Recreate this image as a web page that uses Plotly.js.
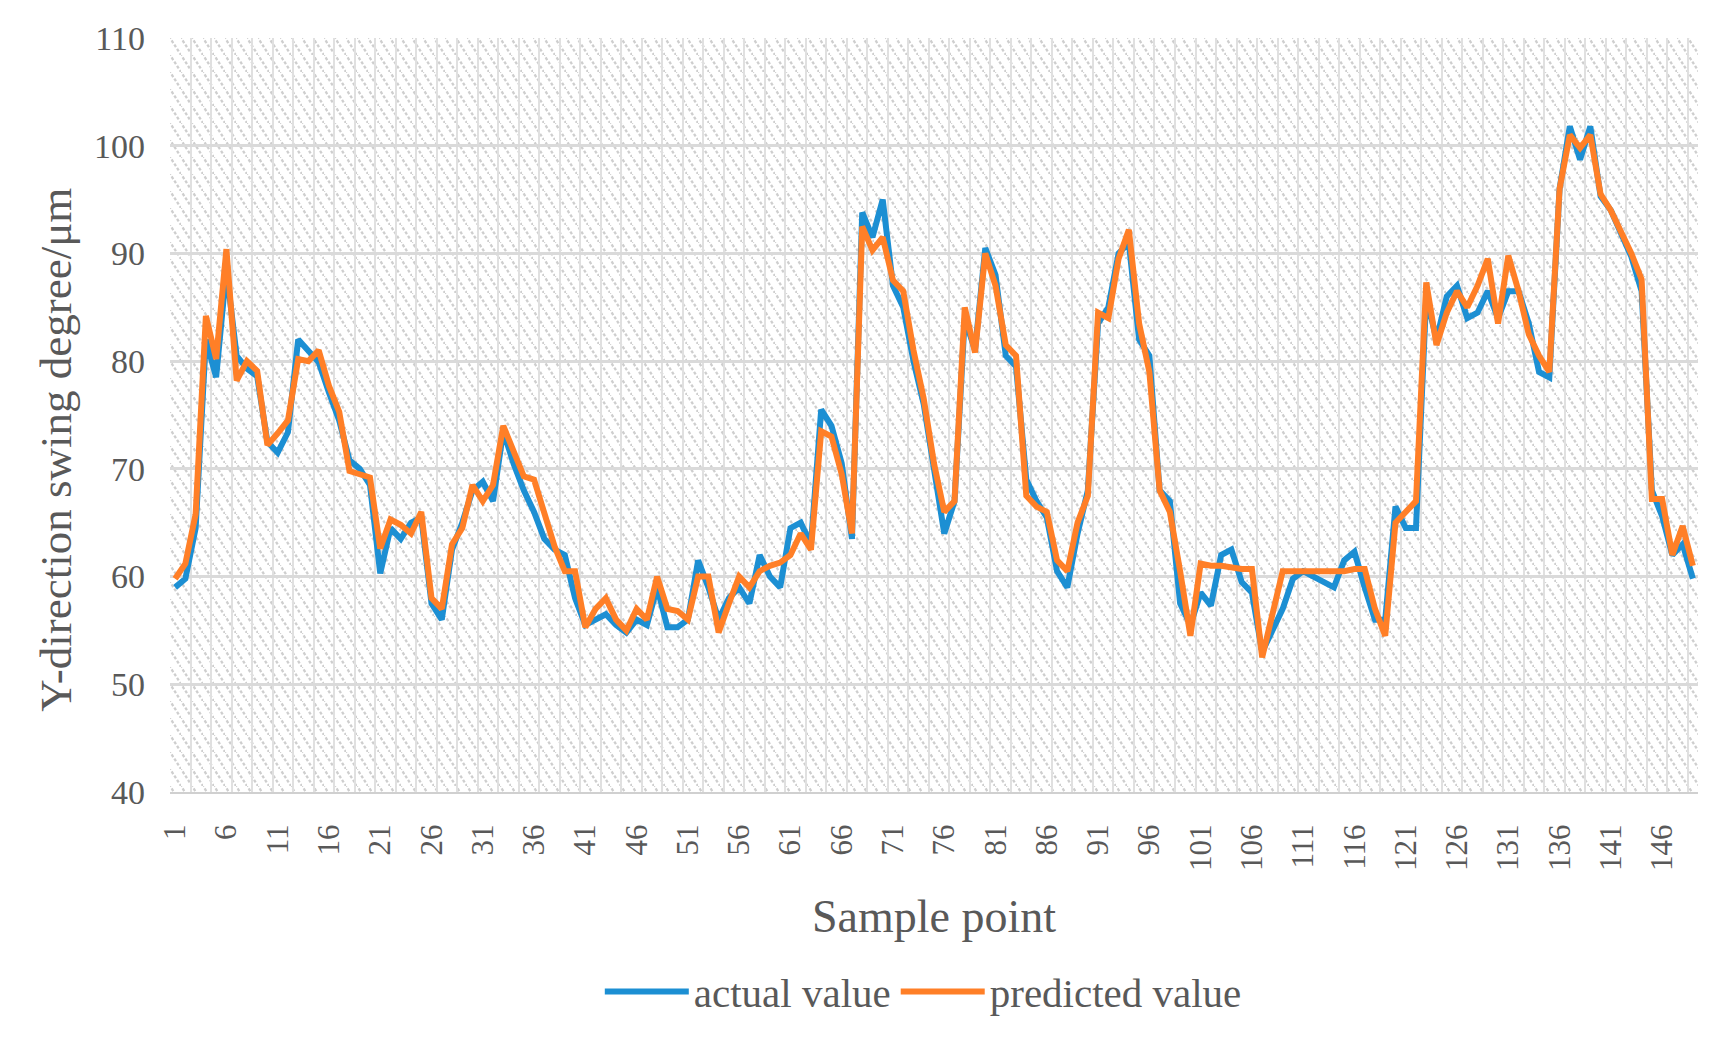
<!DOCTYPE html>
<html>
<head>
<meta charset="utf-8">
<script src="https://cdn.plot.ly/plotly-3.0.1.min.js"></script>
<style>html,body{margin:0;padding:0;background:#fff;}#chart{width:1732px;height:1038px;}</style>
</head>
<body>
<div id="chart"></div>
<script>
// Sample points 1..149
const samplePoints = Array.from({length: 149}, (_, i) => i + 1);

const actualValue = [
  59, 59.8, 64.5, 82, 78.5, 88.5, 80.5, 79.3, 78.6, 72.5,
  71.5, 73.4, 82, 81, 79.9, 77.1, 74.5, 70.8, 70, 68.5,
  60.3, 64.5, 63.5, 65, 65.5, 57.5, 56, 62.5, 65, 68,
  68.8, 67, 73.5, 70.5, 68, 66, 63.5, 62.5, 62, 58,
  55.5, 56, 56.5, 55.5, 54.8, 56, 55.5, 59, 55.3, 55.3,
  56, 61.5, 59, 56, 58, 59, 57.5, 62, 60, 59,
  64.5, 65, 63, 75.5, 74, 70.5, 63.5, 93.8, 91.5, 95,
  87, 85, 80, 76, 70, 64, 67, 84, 81, 90.5,
  88, 80.5, 79.5, 69, 67, 65.5, 60.5, 59, 64, 68,
  83.5, 85, 90, 91, 82, 80.5, 68, 67, 57.5, 55.5,
  58.5, 57.3, 62, 62.5, 59.5, 58.5, 53, 55, 57, 59.8,
  60.5, 60, 59.5, 59, 61.5, 62.3, 59, 56, 56, 66.5,
  64.5, 64.5, 86, 82, 86, 87, 84, 84.5, 86.5, 84,
  86.5, 86.5, 83.5, 79, 78.5, 96, 101.8, 98.7, 101.8, 95.3,
  94, 92, 89.7, 86.5, 68, 65.6, 62, 63, 59.8
];

const predictedValue = [
  59.8, 61.2, 65.8, 84.2, 80.2, 90.4, 78.2, 80, 79.1, 72.2,
  73.3, 74.5, 80.2, 80, 81, 77.7, 75.3, 69.8, 69.5, 69.2,
  62.6, 65.3, 64.8, 64, 66, 58, 57, 63, 64.5, 68.5,
  67, 68.5, 74, 71.5, 69.3, 69, 66, 62.8, 60.5, 60.5,
  55.3, 57, 58, 56, 55, 57, 56, 60, 57, 56.8,
  56, 60, 60, 54.8, 57.5, 60, 59, 60.5, 61, 61.3,
  62, 64, 62.5, 73.5, 73, 69.5, 64, 92.5, 90.3, 91.5,
  87.5, 86.5, 81, 76.5, 70.5, 66, 67, 85, 80.8, 90,
  87, 81.5, 80.5, 67.5, 66.5, 66, 61.5, 60.5, 65, 67.5,
  84.5, 84, 89.5, 92.2, 83.5, 79, 68, 66, 60.5, 54.5,
  61.2, 61, 61, 60.8, 60.7, 60.7, 52.5, 56.5, 60.5, 60.5,
  60.5, 60.5, 60.5, 60.5, 60.5, 60.7, 60.7, 57, 54.5, 65,
  66, 67, 87.3, 81.5, 84.5, 86.5, 85, 87, 89.5, 83.5,
  89.8, 86.5, 82.5, 80.5, 79, 96, 101, 99.8, 101, 95.5,
  94, 92, 90, 87.6, 67.2, 67.2, 62, 64.7, 61
];

const xTickVals = [1, 6, 11, 16, 21, 26, 31, 36, 41, 46, 51, 56, 61, 66, 71, 76, 81, 86, 91, 96, 101, 106, 111, 116, 121, 126, 131, 136, 141, 146];
const yTickVals = [40, 50, 60, 70, 80, 90, 100, 110];

const FONT = 'Liberation Serif, Times New Roman, serif';
const TXT = '#595959';

const hatchSvg = "<svg xmlns='http://www.w3.org/2000/svg' width='1528' height='754'>" +
  "<defs><pattern id='h' width='11' height='17' patternUnits='userSpaceOnUse'>" +
  "<path d='M-1.1,-1.7 L12.1,18.7' stroke='#cecece' stroke-width='2.3' stroke-dasharray='3 2'/>" +
  "</pattern></defs><rect width='100%' height='100%' fill='url(#h)'/></svg>";

const traces = [
  {
    x: samplePoints, y: actualValue, type: 'scatter', mode: 'lines',
    name: 'actual value', line: {color: '#1c8fd3', width: 6}
  },
  {
    x: samplePoints, y: predictedValue, type: 'scatter', mode: 'lines',
    name: 'predicted value', line: {color: '#ff7f27', width: 6}
  }
];

const layout = {
  width: 1732, height: 1038,
  margin: {l: 170, r: 34, t: 38, b: 246},
  paper_bgcolor: '#ffffff',
  plot_bgcolor: '#ffffff',
  font: {family: FONT, color: TXT, size: 32},
  showlegend: true,
  legend: {
    orientation: 'h', x: 0.493, xanchor: 'center', y: -0.265, yanchor: 'middle',
    font: {family: FONT, size: 41, color: TXT}, bgcolor: 'rgba(0,0,0,0)',
    itemwidth: 84, tracegroupgap: 0
  },
  xaxis: {
    range: [0.5, 149.5],
    tickmode: 'array', tickvals: xTickVals, ticktext: xTickVals.map(String),
    tickangle: -90,
    ticks: '', ticklabelstandoff: 18,
    tickfont: {family: FONT, size: 31, color: TXT},
    showgrid: false, zeroline: false,
    showline: true, linecolor: '#d0d0d0', linewidth: 2,
    minor: {tick0: 0.5, dtick: 2, showgrid: true, gridcolor: '#e0e0e0', gridwidth: 2, ticks: ''},
    title: {text: 'Sample point', font: {family: FONT, size: 46, color: TXT}, standoff: 30}
  },
  yaxis: {
    range: [40, 110],
    tickmode: 'array', tickvals: yTickVals,
    ticks: '', ticklabelstandoff: 24,
    tickfont: {family: FONT, size: 34, color: TXT},
    showgrid: true, gridcolor: '#dadada', gridwidth: 3,
    zeroline: false, showline: false,
    title: {text: ''}
  },
  annotations: [{
    text: 'Y-direction swing degree/μm', textangle: -90,
    xref: 'paper', yref: 'paper', x: -0.0746, y: 0.454,
    xanchor: 'center', yanchor: 'middle', showarrow: false,
    font: {family: FONT, size: 45, color: TXT}
  }],
  images: [{
    source: 'data:image/svg+xml;charset=utf-8,' + encodeURIComponent(hatchSvg),
    xref: 'paper', yref: 'paper', x: 0, y: 1, sizex: 1, sizey: 1,
    xanchor: 'left', yanchor: 'top', sizing: 'stretch', layer: 'below'
  }]
};

Plotly.newPlot('chart', traces, layout, {displayModeBar: false, staticPlot: true});
</script>
</body>
</html>
